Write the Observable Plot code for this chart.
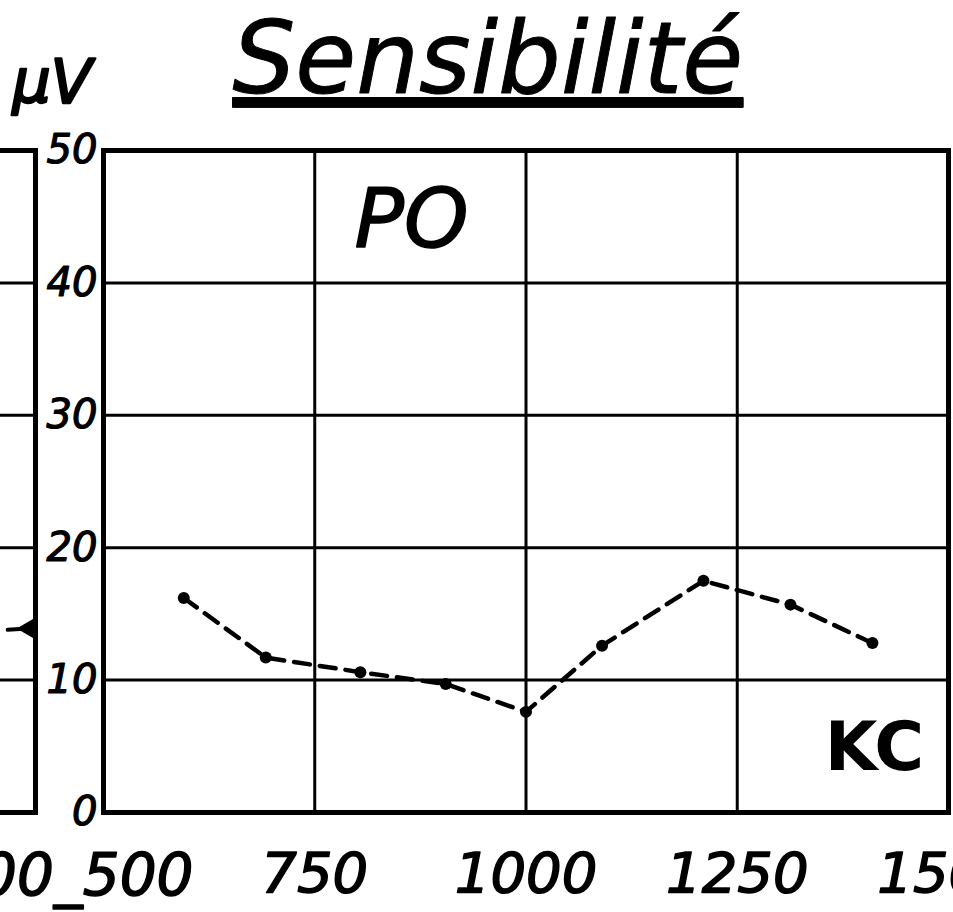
<!DOCTYPE html>
<html><head><meta charset="utf-8">
<script src="https://cdn.jsdelivr.net/npm/d3@7"></script>
<script src="https://cdn.jsdelivr.net/npm/@observablehq/plot@0.6"></script>
<style>
html,body{margin:0;padding:0;background:#fff;overflow:hidden;}
#wrap{position:relative;width:953px;height:912px;overflow:hidden;background:#fff;}
#wrap svg{position:absolute;top:0;}
</style></head><body><div id="wrap"></div>
<script>
// PO band (kc/s) and sensitivity (µV)
const freqKC = [595, 692, 804, 905, 1000, 1090, 1210, 1313, 1410];
const sensUV = [16.2, 11.7, 10.6, 9.7, 7.6, 12.6, 17.5, 15.7, 12.8];
// neighbouring (cropped) panel on the left
const prevFreq = [286, 296];
const prevSens = [13.8, 13.9];
const yTicks = [0, 10, 20, 30, 40, 50];
const yTickLabels = ["0", "10", "20", "30", "40", "50"];
const yGrid = [10, 20, 30, 40];
const xTicks = [750, 1000, 1250, 1500];
const xTickLabels = ["750", "1000", "1250", "1500"];
const xGrid = [750, 1000, 1250];
const junctionTick = [500];
const junctionLabel = ["00_500"];
const titleText = ["Sensibilité"];
const unitText = ["µV"];
const bandText = ["PO"];
const unitXText = ["KC"];

const hand = "'DejaVu Sans',sans-serif";
const data = freqKC.map((f, i) => ({f, v: sensUV[i]}));
const prev = prevFreq.map((f, i) => ({f, v: prevSens[i]}));
const ink = "#000";

const main = Plot.plot({
  width: 953, height: 912,
  marginLeft: 103, marginRight: 5, marginTop: 150, marginBottom: 100,
  x: {domain: [500, 1500], label: null},
  y: {domain: [0, 50], label: null},
  style: {background: "transparent", overflow: "visible", fontFamily: hand, color: ink},
  marks: [
    Plot.gridX(xGrid, {stroke: ink, strokeOpacity: 1, strokeWidth: 3}),
    Plot.gridY(yGrid, {stroke: ink, strokeOpacity: 1, strokeWidth: 3}),
    Plot.frame({stroke: ink, strokeWidth: 5}),
    Plot.axisY(yTicks, {tickSize: 0, tickPadding: 6, fontSize: 40, fontStyle: "italic", label: null,
      textStroke: ink, textStrokeWidth: 1.2,
      tickFormat: d => yTickLabels[yTicks.indexOf(d)], fill: ink}),
    Plot.axisX(xTicks, {tickSize: 0, tickPadding: 40, fontSize: 56, fontStyle: "italic", label: null,
      textStroke: ink, textStrokeWidth: 1.5,
      tickFormat: d => xTickLabels[xTicks.indexOf(d)], fill: ink}),
    Plot.text(junctionTick, {x: d => d, text: (d, i) => junctionLabel[i], frameAnchor: "bottom",
      textAnchor: "end", lineAnchor: "middle", dx: 90, dy: 64, fontSize: 58, fontStyle: "italic",
      fill: ink, stroke: ink, strokeWidth: 1.5}),
    Plot.line(data, {x: "f", y: "v", stroke: ink, strokeWidth: 4.5, strokeDasharray: "16,10"}),
    Plot.dot(data, {x: "f", y: "v", r: 6, fill: ink}),
    Plot.text(titleText, {frameAnchor: "top-left", dx: 129, dy: -58, lineAnchor: "bottom",
      textAnchor: "start", fontSize: 99, fontStyle: "italic", fill: ink, stroke: ink, strokeWidth: 1}),
    Plot.text(unitText, {frameAnchor: "top-left", dx: -91, dy: -48, lineAnchor: "bottom",
      textAnchor: "start", fontSize: 60, fontStyle: "italic", fill: ink, stroke: ink, strokeWidth: 2.5}),
    Plot.text(bandText, {frameAnchor: "top-left", dx: 308, dy: 70, lineAnchor: "middle",
      textAnchor: "middle", fontSize: 82, fontStyle: "italic", fill: ink, stroke: ink, strokeWidth: 1.5}),
    Plot.text(unitXText, {frameAnchor: "bottom-right", dx: -74, dy: -64, lineAnchor: "middle",
      textAnchor: "middle", fontSize: 68, fontWeight: "bold", fill: ink})
  ]
});

const left = Plot.plot({
  width: 400, height: 912,
  marginLeft: 0, marginRight: 3, marginTop: 150, marginBottom: 100,
  x: {domain: [100, 300], axis: null},
  y: {domain: [0, 50], axis: null},
  style: {background: "transparent", overflow: "visible"},
  marks: [
    Plot.gridY(yGrid, {stroke: ink, strokeOpacity: 1, strokeWidth: 3}),
    Plot.frame({stroke: ink, strokeWidth: 5}),
    Plot.line(prev, {x: "f", y: "v", stroke: ink, strokeWidth: 4}),
    Plot.dot(prev.slice(-1), {x: "f", y: "v", r: 7, fill: ink, symbol: "triangle", rotate: -90})
  ]
});

const wrap = document.getElementById("wrap");
main.style.left = "0px";
left.style.left = (35 - 397) + "px";
wrap.appendChild(main);
wrap.appendChild(left);

d3.select(main).selectAll("text")
  .filter(function() { return this.textContent === titleText[0]; })
  .style("text-decoration", "underline").style("text-decoration-thickness", "6px");
</script></body></html>
